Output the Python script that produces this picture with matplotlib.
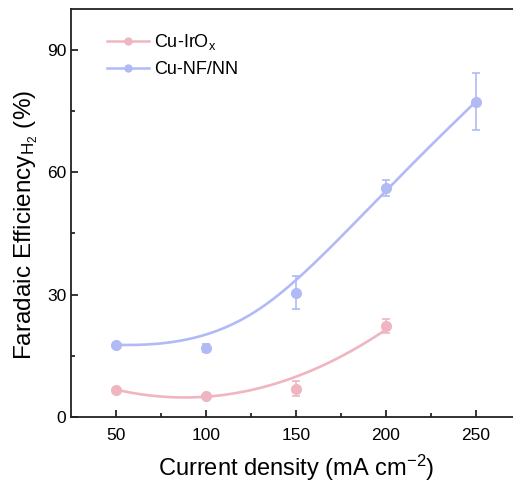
import numpy as np
import matplotlib.pyplot as plt
from matplotlib.lines import Line2D

plt.rcParams['font.family'] = ['Liberation Sans', 'DejaVu Sans']
plt.rcParams['mathtext.fontset'] = 'custom'
plt.rcParams['mathtext.rm'] = 'Liberation Sans'
plt.rcParams['mathtext.it'] = 'Liberation Sans:italic'

# current density (mA cm-2) and H2 faradaic efficiency (%)
j_irox = [50, 100, 150, 200]
fe_irox = [6.6, 5.2, 6.9, 22.3]
err_irox = [0.6, 0.5, 1.8, 1.7]

j_nfnn = [50, 100, 150, 200, 250]
fe_nfnn = [17.7, 17.0, 30.5, 56.2, 77.3]
err_nfnn = [0.5, 1.0, 4.0, 2.0, 7.0]

pink = '#EFB6C2'
blue = '#B2BAF6'


def bezier(pts, t):
    t = t[:, None]
    b0, b1, b2, b3 = pts
    return ((1 - t)**3 * b0 + 3 * t * (1 - t)**2 * b1
            + 3 * t**2 * (1 - t) * b2 + t**3 * b3)


def bspline5(x, y):
    # clamped cubic B-spline over 5 control points, split into two Bezier pieces
    P = np.column_stack([x, y]).astype(float)
    mid = (P[1] + 2 * P[2] + P[3]) / 4
    seg1 = [P[0], P[1], (P[1] + P[2]) / 2, mid]
    seg2 = [mid, (P[2] + P[3]) / 2, P[3], P[4]]
    t = np.linspace(0, 1, 100)
    c = np.vstack([bezier(seg1, t), bezier(seg2, t)])
    return c[:, 0], c[:, 1]


fig = plt.figure(figsize=(5.13, 4.86), dpi=100)
ax = fig.add_axes([0.1384, 0.142, 0.877, 0.8395])

# Cu-IrOx: error-weighted quadratic fit
p = np.polyfit(j_irox, fe_irox, 2, w=1 / np.array(err_irox))
xs = np.linspace(j_irox[0], j_irox[-1], 200)
ax.plot(xs, np.polyval(p, xs), color=pink, lw=1.9, zorder=2)

# Cu-NF/NN: smooth spline
bx, by = bspline5(j_nfnn, fe_nfnn)
ax.plot(bx, by, color=blue, lw=1.9, zorder=2)

for j, fe, err, c in [(j_irox, fe_irox, err_irox, pink),
                      (j_nfnn, fe_nfnn, err_nfnn, blue)]:
    ax.errorbar(j, fe, yerr=err, fmt='o', color=c, ms=7, mfc=c, mec=c,
                elinewidth=1.2, capsize=3, capthick=1.2, zorder=3)

ax.set_xlim(25, 275)
ax.set_ylim(0, 100)
ax.set_xticks([50, 100, 150, 200, 250])
ax.set_xticks([75, 125, 175, 225], minor=True)
ax.set_yticks([0, 30, 60, 90])
ax.set_yticks([15, 45, 75], minor=True)
ax.tick_params(which='both', direction='in', labelsize=12.5, width=1.1)
ax.tick_params(which='major', length=5)
ax.tick_params(which='minor', length=3)
ax.tick_params(axis='x', pad=8)
for s in ax.spines.values():
    s.set_linewidth(1.3)
    s.set_color('#222222')

ax.set_xlabel('Current density (mA cm$^{\u22122}$)', fontsize=17, labelpad=7)
ax.set_ylabel(r'Faradaic Efficiency$_{\mathregular{H_2}}$ (%)', fontsize=17.5, labelpad=6)
ax.yaxis.set_label_coords(-0.068, 0.47)

handles = [Line2D([], [], color=pink, marker='o', ms=5, lw=1.8),
           Line2D([], [], color=blue, marker='o', ms=5, lw=1.8)]
labels = [r'Cu-IrO$_{\mathregular{x}}$', 'Cu-NF/NN']
ax.legend(handles, labels, loc='upper left', bbox_to_anchor=(0.045, 0.983),
          frameon=False, fontsize=13, handlelength=2.3, handletextpad=0.3,
          labelspacing=0.5)

fig.savefig('out.png', dpi=100)
